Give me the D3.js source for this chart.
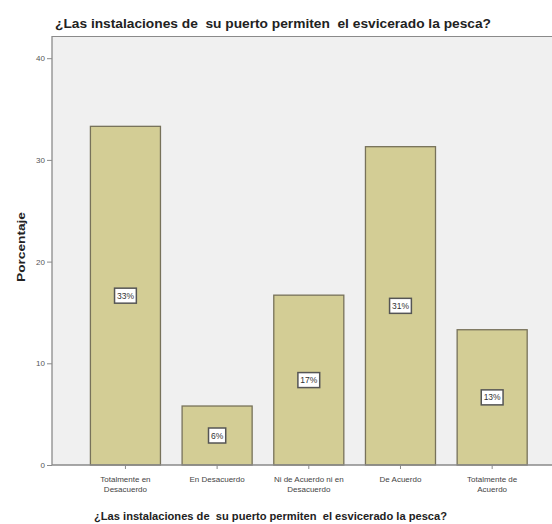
<!DOCTYPE html>
<html><head><meta charset="utf-8">
<script src="https://cdn.jsdelivr.net/npm/d3@7"></script>
<style>body{margin:0;background:#fff;} svg{display:block;} text{white-space:pre;}</style>
</head><body>
<script>
const categories = ["Totalmente en Desacuerdo","En Desacuerdo","Ni de Acuerdo ni en Desacuerdo","De Acuerdo","Totalmente de Acuerdo"];
const categoryLines = [["Totalmente en","Desacuerdo"],["En Desacuerdo"],["Ni de Acuerdo ni en","Desacuerdo"],["De Acuerdo"],["Totalmente de","Acuerdo"]];
const values = [33.3, 5.8, 16.7, 31.3, 13.3];
const valueLabels = ["33%","6%","17%","31%","13%"];
const yTicks = [0,10,20,30,40];
const titleText = "¿Las instalaciones de  su puerto permiten  el esvicerado la pesca?";
const yTitle = "Porcentaje";

const W = 552, H = 524;
const svg = d3.select("body").append("svg").attr("width", W).attr("height", H);
const plot = {left: 52, right: 552, top: 36, bottom: 465};

const y = d3.scaleLinear().domain([0, 10]).range([465, 363.3]);
const x = d3.scaleBand().domain(categories).range([79.6, 538]).paddingInner(0.236).paddingOuter(0.118);

// background
svg.append("rect").attr("x", plot.left).attr("y", plot.top)
  .attr("width", plot.right - plot.left).attr("height", plot.bottom - plot.top)
  .attr("fill", "#f0f0f0");
svg.append("line").attr("x1", plot.left).attr("x2", plot.right).attr("y1", plot.top+0.5).attr("y2", plot.top+0.5)
  .attr("stroke", "#8a8a8a").attr("stroke-width", 1.2);

// bars
const g = svg.append("g");
g.selectAll("rect.bar").data(values).join("rect").attr("class","bar")
  .attr("x", (d,i) => x(categories[i]))
  .attr("y", d => y(d))
  .attr("width", x.bandwidth())
  .attr("height", d => y(0) - y(d))
  .attr("fill", "#d3cd95").attr("stroke", "#77725a").attr("stroke-width", 1.3);

// value labels
values.forEach((d,i) => {
  const cx = x(categories[i]) + x.bandwidth()/2;
  const cy = (y(d) + y(0))/2;
  const t = g.append("text").attr("x", cx).attr("y", cy + 3)
    .attr("text-anchor","middle").attr("font-family","Liberation Sans Narrow, Liberation Sans, Arial, sans-serif")
    .attr("font-size", 8.5).attr("fill", "#333").text(valueLabels[i]);
  const bw = valueLabels[i].length * 4.6 + 8;
  g.insert("rect", () => t.node()).attr("x", cx - bw/2).attr("y", cy - 7.5).attr("width", bw).attr("height", 15)
    .attr("fill", "#fff").attr("stroke", "#555").attr("stroke-width", 1.5);
});

// y axis
const yAxis = d3.axisLeft(y).tickValues(yTicks).tickSize(5).tickPadding(2).tickFormat(d3.format("d"));
const ya = svg.append("g").attr("transform", `translate(${plot.left},0)`).call(yAxis);
ya.select(".domain").attr("d", `M0,${plot.top}V${plot.bottom}`).attr("stroke", "#8a8a8a").attr("stroke-width", 1.3);
ya.selectAll(".tick line").attr("stroke", "#8a8a8a");
ya.selectAll(".tick text").attr("font-family","Liberation Sans, Arial, sans-serif").attr("font-size", 8).attr("fill", "#555");

// x axis
const xAxis = d3.axisBottom(x).tickSize(4).tickFormat("");
const xa = svg.append("g").attr("transform", `translate(0,${plot.bottom})`).call(xAxis);
xa.select(".domain").attr("d", `M${plot.left},0H${plot.right}`).attr("stroke", "#8a8a8a").attr("stroke-width", 1.3);
xa.selectAll(".tick line").attr("stroke", "#8a8a8a");
categoryLines.forEach((lines,i) => {
  const cx = x(categories[i]) + x.bandwidth()/2;
  const t = svg.append("text").attr("text-anchor","middle")
    .attr("font-family","Liberation Sans Narrow, Liberation Sans, Arial, sans-serif").attr("font-size", 8).attr("fill", "#444");
  lines.forEach((l,j) => t.append("tspan").attr("x", cx).attr("y", 482 + j*10).text(l));
});

// titles
svg.append("text").attr("x", 55).attr("y", 28).attr("xml:space","preserve")
  .attr("font-family","Liberation Sans Narrow, Liberation Sans, Arial, sans-serif").attr("font-weight","bold")
  .attr("font-size", 12.5).attr("fill", "#222").attr("textLength", 436).attr("lengthAdjust","spacingAndGlyphs").text(titleText);
svg.append("text").attr("x", 94).attr("y", 520).attr("xml:space","preserve")
  .attr("font-family","Liberation Sans Narrow, Liberation Sans, Arial, sans-serif").attr("font-weight","bold")
  .attr("font-size", 11).attr("fill", "#222").attr("textLength", 353).attr("lengthAdjust","spacingAndGlyphs").text(titleText);
svg.append("text").attr("transform", "translate(25,247) rotate(-90)").attr("text-anchor","middle")
  .attr("font-family","Liberation Sans, Arial, sans-serif").attr("font-weight","bold")
  .attr("font-size", 10.5).attr("fill", "#222").attr("textLength", 70).attr("lengthAdjust","spacingAndGlyphs").text(yTitle);
</script>
</body></html>
